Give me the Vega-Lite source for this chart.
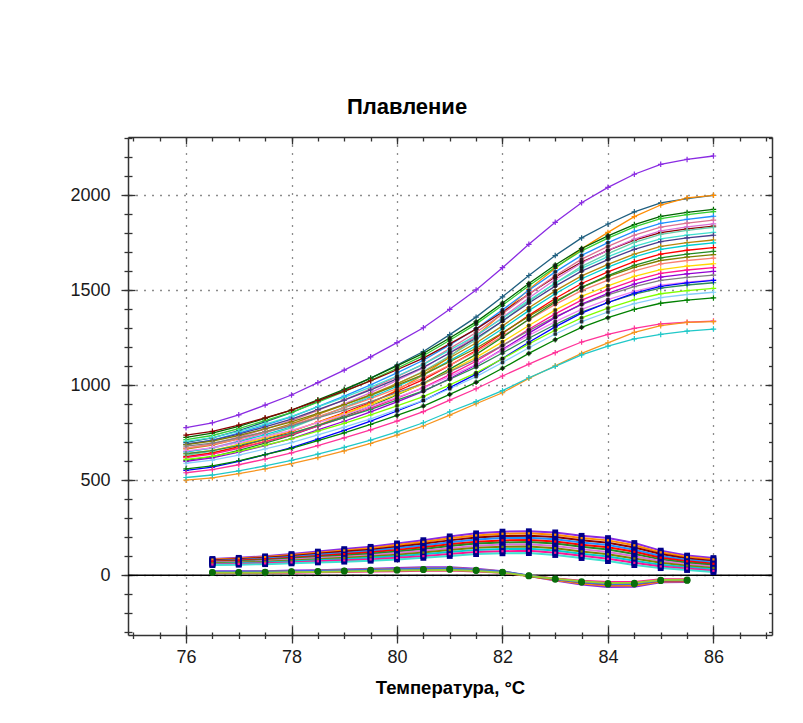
{
"$schema":"https://vega.github.io/schema/vega-lite/v6.json",
"width":644,"height":498,
"autosize":{"type":"none"},
"padding":{"left":128,"top":137,"right":31,"bottom":88},
"background":"white",
"title":{"text":"Плавление","font":"Liberation Sans","fontSize":22,"fontWeight":"bold","color":"#000","anchor":"middle","frame":"group","dx":-43,"offset":0,"baseline":"alphabetic"},
"datasets":{
"melt":[
{"s":1,"t":76,"v":777},{"s":1,"t":76.5,"v":803},{"s":1,"t":77,"v":845},{"s":1,"t":77.5,"v":896},{"s":1,"t":78,"v":949},{"s":1,"t":78.5,"v":1014},{"s":1,"t":79,"v":1080},{"s":1,"t":79.5,"v":1150},{"s":1,"t":80,"v":1225},{"s":1,"t":80.5,"v":1303},{"s":1,"t":81,"v":1400},{"s":1,"t":81.5,"v":1502},{"s":1,"t":82,"v":1619},{"s":1,"t":82.5,"v":1742},{"s":1,"t":83,"v":1858},{"s":1,"t":83.5,"v":1961},{"s":1,"t":84,"v":2042},{"s":1,"t":84.5,"v":2111},{"s":1,"t":85,"v":2163},{"s":1,"t":85.5,"v":2189},{"s":1,"t":86,"v":2207},
{"s":2,"t":76,"v":700},{"s":2,"t":76.5,"v":723},{"s":2,"t":77,"v":762},{"s":2,"t":77.5,"v":808},{"s":2,"t":78,"v":856},{"s":2,"t":78.5,"v":915},{"s":2,"t":79,"v":974},{"s":2,"t":79.5,"v":1038},{"s":2,"t":80,"v":1107},{"s":2,"t":80.5,"v":1178},{"s":2,"t":81,"v":1267},{"s":2,"t":81.5,"v":1359},{"s":2,"t":82,"v":1466},{"s":2,"t":82.5,"v":1578},{"s":2,"t":83,"v":1683},{"s":2,"t":83.5,"v":1776},{"s":2,"t":84,"v":1849},{"s":2,"t":84.5,"v":1913},{"s":2,"t":85,"v":1960},{"s":2,"t":85.5,"v":1983},{"s":2,"t":86,"v":2000},
{"s":3,"t":76,"v":622},{"s":3,"t":76.5,"v":645},{"s":3,"t":77,"v":672},{"s":3,"t":77.5,"v":705},{"s":3,"t":78,"v":745},{"s":3,"t":78.5,"v":790},{"s":3,"t":79,"v":845},{"s":3,"t":79.5,"v":905},{"s":3,"t":80,"v":975},{"s":3,"t":80.5,"v":1055},{"s":3,"t":81,"v":1150},{"s":3,"t":81.5,"v":1260},{"s":3,"t":82,"v":1379},{"s":3,"t":82.5,"v":1505},{"s":3,"t":83,"v":1616},{"s":3,"t":83.5,"v":1718},{"s":3,"t":84,"v":1805},{"s":3,"t":84.5,"v":1888},{"s":3,"t":85,"v":1949},{"s":3,"t":85.5,"v":1987},{"s":3,"t":86,"v":2000},
{"s":4,"t":76,"v":726},{"s":4,"t":76.5,"v":748},{"s":4,"t":77,"v":784},{"s":4,"t":77.5,"v":826},{"s":4,"t":78,"v":870},{"s":4,"t":78.5,"v":924},{"s":4,"t":79,"v":979},{"s":4,"t":79.5,"v":1038},{"s":4,"t":80,"v":1102},{"s":4,"t":80.5,"v":1168},{"s":4,"t":81,"v":1249},{"s":4,"t":81.5,"v":1334},{"s":4,"t":82,"v":1433},{"s":4,"t":82.5,"v":1536},{"s":4,"t":83,"v":1633},{"s":4,"t":83.5,"v":1720},{"s":4,"t":84,"v":1787},{"s":4,"t":84.5,"v":1846},{"s":4,"t":85,"v":1889},{"s":4,"t":85.5,"v":1910},{"s":4,"t":86,"v":1926},
{"s":5,"t":76,"v":714},{"s":5,"t":76.5,"v":736},{"s":5,"t":77,"v":772},{"s":5,"t":77.5,"v":814},{"s":5,"t":78,"v":858},{"s":5,"t":78.5,"v":912},{"s":5,"t":79,"v":967},{"s":5,"t":79.5,"v":1026},{"s":5,"t":80,"v":1090},{"s":5,"t":80.5,"v":1156},{"s":5,"t":81,"v":1237},{"s":5,"t":81.5,"v":1322},{"s":5,"t":82,"v":1421},{"s":5,"t":82.5,"v":1524},{"s":5,"t":83,"v":1621},{"s":5,"t":83.5,"v":1708},{"s":5,"t":84,"v":1775},{"s":5,"t":84.5,"v":1834},{"s":5,"t":85,"v":1877},{"s":5,"t":85.5,"v":1898},{"s":5,"t":86,"v":1914},
{"s":6,"t":76,"v":690},{"s":6,"t":76.5,"v":712},{"s":6,"t":77,"v":748},{"s":6,"t":77.5,"v":790},{"s":6,"t":78,"v":834},{"s":6,"t":78.5,"v":888},{"s":6,"t":79,"v":943},{"s":6,"t":79.5,"v":1002},{"s":6,"t":80,"v":1066},{"s":6,"t":80.5,"v":1132},{"s":6,"t":81,"v":1213},{"s":6,"t":81.5,"v":1298},{"s":6,"t":82,"v":1397},{"s":6,"t":82.5,"v":1500},{"s":6,"t":83,"v":1597},{"s":6,"t":83.5,"v":1684},{"s":6,"t":84,"v":1751},{"s":6,"t":84.5,"v":1810},{"s":6,"t":85,"v":1853},{"s":6,"t":85.5,"v":1874},{"s":6,"t":86,"v":1890},
{"s":7,"t":76,"v":738},{"s":7,"t":76.5,"v":758},{"s":7,"t":77,"v":791},{"s":7,"t":77.5,"v":829},{"s":7,"t":78,"v":870},{"s":7,"t":78.5,"v":920},{"s":7,"t":79,"v":970},{"s":7,"t":79.5,"v":1024},{"s":7,"t":80,"v":1082},{"s":7,"t":80.5,"v":1143},{"s":7,"t":81,"v":1218},{"s":7,"t":81.5,"v":1296},{"s":7,"t":82,"v":1386},{"s":7,"t":82.5,"v":1481},{"s":7,"t":83,"v":1570},{"s":7,"t":83.5,"v":1649},{"s":7,"t":84,"v":1710},{"s":7,"t":84.5,"v":1764},{"s":7,"t":85,"v":1804},{"s":7,"t":85.5,"v":1824},{"s":7,"t":86,"v":1838},
{"s":8,"t":76,"v":670},{"s":8,"t":76.5,"v":692},{"s":8,"t":77,"v":728},{"s":8,"t":77.5,"v":770},{"s":8,"t":78,"v":814},{"s":8,"t":78.5,"v":868},{"s":8,"t":79,"v":923},{"s":8,"t":79.5,"v":982},{"s":8,"t":80,"v":1046},{"s":8,"t":80.5,"v":1112},{"s":8,"t":81,"v":1193},{"s":8,"t":81.5,"v":1278},{"s":8,"t":82,"v":1377},{"s":8,"t":82.5,"v":1480},{"s":8,"t":83,"v":1577},{"s":8,"t":83.5,"v":1664},{"s":8,"t":84,"v":1731},{"s":8,"t":84.5,"v":1790},{"s":8,"t":85,"v":1833},{"s":8,"t":85.5,"v":1854},{"s":8,"t":86,"v":1870},
{"s":9,"t":76,"v":650},{"s":9,"t":76.5,"v":672},{"s":9,"t":77,"v":708},{"s":9,"t":77.5,"v":750},{"s":9,"t":78,"v":794},{"s":9,"t":78.5,"v":848},{"s":9,"t":79,"v":903},{"s":9,"t":79.5,"v":962},{"s":9,"t":80,"v":1026},{"s":9,"t":80.5,"v":1092},{"s":9,"t":81,"v":1173},{"s":9,"t":81.5,"v":1258},{"s":9,"t":82,"v":1357},{"s":9,"t":82.5,"v":1460},{"s":9,"t":83,"v":1557},{"s":9,"t":83.5,"v":1644},{"s":9,"t":84,"v":1711},{"s":9,"t":84.5,"v":1770},{"s":9,"t":85,"v":1813},{"s":9,"t":85.5,"v":1834},{"s":9,"t":86,"v":1850},
{"s":10,"t":76,"v":632},{"s":10,"t":76.5,"v":654},{"s":10,"t":77,"v":690},{"s":10,"t":77.5,"v":732},{"s":10,"t":78,"v":776},{"s":10,"t":78.5,"v":830},{"s":10,"t":79,"v":885},{"s":10,"t":79.5,"v":944},{"s":10,"t":80,"v":1008},{"s":10,"t":80.5,"v":1074},{"s":10,"t":81,"v":1155},{"s":10,"t":81.5,"v":1240},{"s":10,"t":82,"v":1339},{"s":10,"t":82.5,"v":1442},{"s":10,"t":83,"v":1539},{"s":10,"t":83.5,"v":1626},{"s":10,"t":84,"v":1693},{"s":10,"t":84.5,"v":1752},{"s":10,"t":85,"v":1795},{"s":10,"t":85.5,"v":1816},{"s":10,"t":86,"v":1832},
{"s":11,"t":76,"v":705},{"s":11,"t":76.5,"v":725},{"s":11,"t":77,"v":758},{"s":11,"t":77.5,"v":796},{"s":11,"t":78,"v":837},{"s":11,"t":78.5,"v":887},{"s":11,"t":79,"v":937},{"s":11,"t":79.5,"v":991},{"s":11,"t":80,"v":1049},{"s":11,"t":80.5,"v":1110},{"s":11,"t":81,"v":1185},{"s":11,"t":81.5,"v":1263},{"s":11,"t":82,"v":1353},{"s":11,"t":82.5,"v":1448},{"s":11,"t":83,"v":1537},{"s":11,"t":83.5,"v":1616},{"s":11,"t":84,"v":1677},{"s":11,"t":84.5,"v":1731},{"s":11,"t":85,"v":1771},{"s":11,"t":85.5,"v":1791},{"s":11,"t":86,"v":1805},
{"s":12,"t":76,"v":690},{"s":12,"t":76.5,"v":710},{"s":12,"t":77,"v":743},{"s":12,"t":77.5,"v":781},{"s":12,"t":78,"v":822},{"s":12,"t":78.5,"v":872},{"s":12,"t":79,"v":922},{"s":12,"t":79.5,"v":976},{"s":12,"t":80,"v":1034},{"s":12,"t":80.5,"v":1095},{"s":12,"t":81,"v":1170},{"s":12,"t":81.5,"v":1248},{"s":12,"t":82,"v":1338},{"s":12,"t":82.5,"v":1433},{"s":12,"t":83,"v":1522},{"s":12,"t":83.5,"v":1601},{"s":12,"t":84,"v":1662},{"s":12,"t":84.5,"v":1716},{"s":12,"t":85,"v":1756},{"s":12,"t":85.5,"v":1776},{"s":12,"t":86,"v":1790},
{"s":13,"t":76,"v":665},{"s":13,"t":76.5,"v":685},{"s":13,"t":77,"v":718},{"s":13,"t":77.5,"v":756},{"s":13,"t":78,"v":797},{"s":13,"t":78.5,"v":847},{"s":13,"t":79,"v":897},{"s":13,"t":79.5,"v":951},{"s":13,"t":80,"v":1009},{"s":13,"t":80.5,"v":1070},{"s":13,"t":81,"v":1145},{"s":13,"t":81.5,"v":1223},{"s":13,"t":82,"v":1313},{"s":13,"t":82.5,"v":1408},{"s":13,"t":83,"v":1497},{"s":13,"t":83.5,"v":1576},{"s":13,"t":84,"v":1637},{"s":13,"t":84.5,"v":1691},{"s":13,"t":85,"v":1731},{"s":13,"t":85.5,"v":1751},{"s":13,"t":86,"v":1765},
{"s":14,"t":76,"v":650},{"s":14,"t":76.5,"v":670},{"s":14,"t":77,"v":703},{"s":14,"t":77.5,"v":741},{"s":14,"t":78,"v":782},{"s":14,"t":78.5,"v":832},{"s":14,"t":79,"v":882},{"s":14,"t":79.5,"v":936},{"s":14,"t":80,"v":994},{"s":14,"t":80.5,"v":1055},{"s":14,"t":81,"v":1130},{"s":14,"t":81.5,"v":1208},{"s":14,"t":82,"v":1298},{"s":14,"t":82.5,"v":1393},{"s":14,"t":83,"v":1482},{"s":14,"t":83.5,"v":1561},{"s":14,"t":84,"v":1622},{"s":14,"t":84.5,"v":1676},{"s":14,"t":85,"v":1716},{"s":14,"t":85.5,"v":1736},{"s":14,"t":86,"v":1750},
{"s":15,"t":76,"v":625},{"s":15,"t":76.5,"v":645},{"s":15,"t":77,"v":678},{"s":15,"t":77.5,"v":716},{"s":15,"t":78,"v":757},{"s":15,"t":78.5,"v":807},{"s":15,"t":79,"v":857},{"s":15,"t":79.5,"v":911},{"s":15,"t":80,"v":969},{"s":15,"t":80.5,"v":1030},{"s":15,"t":81,"v":1105},{"s":15,"t":81.5,"v":1183},{"s":15,"t":82,"v":1273},{"s":15,"t":82.5,"v":1368},{"s":15,"t":83,"v":1457},{"s":15,"t":83.5,"v":1536},{"s":15,"t":84,"v":1597},{"s":15,"t":84.5,"v":1651},{"s":15,"t":85,"v":1691},{"s":15,"t":85.5,"v":1711},{"s":15,"t":86,"v":1725},
{"s":16,"t":76,"v":688},{"s":16,"t":76.5,"v":706},{"s":16,"t":77,"v":736},{"s":16,"t":77.5,"v":771},{"s":16,"t":78,"v":808},{"s":16,"t":78.5,"v":853},{"s":16,"t":79,"v":899},{"s":16,"t":79.5,"v":948},{"s":16,"t":80,"v":1001},{"s":16,"t":80.5,"v":1056},{"s":16,"t":81,"v":1124},{"s":16,"t":81.5,"v":1195},{"s":16,"t":82,"v":1277},{"s":16,"t":82.5,"v":1363},{"s":16,"t":83,"v":1444},{"s":16,"t":83.5,"v":1516},{"s":16,"t":84,"v":1572},{"s":16,"t":84.5,"v":1621},{"s":16,"t":85,"v":1657},{"s":16,"t":85.5,"v":1675},{"s":16,"t":86,"v":1688},
{"s":17,"t":76,"v":670},{"s":17,"t":76.5,"v":688},{"s":17,"t":77,"v":718},{"s":17,"t":77.5,"v":753},{"s":17,"t":78,"v":790},{"s":17,"t":78.5,"v":835},{"s":17,"t":79,"v":881},{"s":17,"t":79.5,"v":930},{"s":17,"t":80,"v":983},{"s":17,"t":80.5,"v":1038},{"s":17,"t":81,"v":1106},{"s":17,"t":81.5,"v":1177},{"s":17,"t":82,"v":1259},{"s":17,"t":82.5,"v":1345},{"s":17,"t":83,"v":1426},{"s":17,"t":83.5,"v":1498},{"s":17,"t":84,"v":1554},{"s":17,"t":84.5,"v":1603},{"s":17,"t":85,"v":1639},{"s":17,"t":85.5,"v":1657},{"s":17,"t":86,"v":1670},
{"s":18,"t":76,"v":605},{"s":18,"t":76.5,"v":625},{"s":18,"t":77,"v":658},{"s":18,"t":77.5,"v":696},{"s":18,"t":78,"v":737},{"s":18,"t":78.5,"v":787},{"s":18,"t":79,"v":837},{"s":18,"t":79.5,"v":891},{"s":18,"t":80,"v":949},{"s":18,"t":80.5,"v":1010},{"s":18,"t":81,"v":1085},{"s":18,"t":81.5,"v":1163},{"s":18,"t":82,"v":1253},{"s":18,"t":82.5,"v":1348},{"s":18,"t":83,"v":1437},{"s":18,"t":83.5,"v":1516},{"s":18,"t":84,"v":1577},{"s":18,"t":84.5,"v":1631},{"s":18,"t":85,"v":1671},{"s":18,"t":85.5,"v":1691},{"s":18,"t":86,"v":1705},
{"s":19,"t":76,"v":640},{"s":19,"t":76.5,"v":658},{"s":19,"t":77,"v":688},{"s":19,"t":77.5,"v":723},{"s":19,"t":78,"v":760},{"s":19,"t":78.5,"v":805},{"s":19,"t":79,"v":851},{"s":19,"t":79.5,"v":900},{"s":19,"t":80,"v":953},{"s":19,"t":80.5,"v":1008},{"s":19,"t":81,"v":1076},{"s":19,"t":81.5,"v":1147},{"s":19,"t":82,"v":1229},{"s":19,"t":82.5,"v":1315},{"s":19,"t":83,"v":1396},{"s":19,"t":83.5,"v":1468},{"s":19,"t":84,"v":1524},{"s":19,"t":84.5,"v":1573},{"s":19,"t":85,"v":1609},{"s":19,"t":85.5,"v":1627},{"s":19,"t":86,"v":1640},
{"s":20,"t":76,"v":620},{"s":20,"t":76.5,"v":638},{"s":20,"t":77,"v":668},{"s":20,"t":77.5,"v":703},{"s":20,"t":78,"v":740},{"s":20,"t":78.5,"v":785},{"s":20,"t":79,"v":831},{"s":20,"t":79.5,"v":880},{"s":20,"t":80,"v":933},{"s":20,"t":80.5,"v":988},{"s":20,"t":81,"v":1056},{"s":20,"t":81.5,"v":1127},{"s":20,"t":82,"v":1209},{"s":20,"t":82.5,"v":1295},{"s":20,"t":83,"v":1376},{"s":20,"t":83.5,"v":1448},{"s":20,"t":84,"v":1504},{"s":20,"t":84.5,"v":1553},{"s":20,"t":85,"v":1589},{"s":20,"t":85.5,"v":1607},{"s":20,"t":86,"v":1620},
{"s":21,"t":76,"v":680},{"s":21,"t":76.5,"v":696},{"s":21,"t":77,"v":723},{"s":21,"t":77.5,"v":755},{"s":21,"t":78,"v":788},{"s":21,"t":78.5,"v":829},{"s":21,"t":79,"v":870},{"s":21,"t":79.5,"v":914},{"s":21,"t":80,"v":962},{"s":21,"t":80.5,"v":1011},{"s":21,"t":81,"v":1072},{"s":21,"t":81.5,"v":1136},{"s":21,"t":82,"v":1210},{"s":21,"t":82.5,"v":1288},{"s":21,"t":83,"v":1360},{"s":21,"t":83.5,"v":1425},{"s":21,"t":84,"v":1476},{"s":21,"t":84.5,"v":1520},{"s":21,"t":85,"v":1552},{"s":21,"t":85.5,"v":1568},{"s":21,"t":86,"v":1580},
{"s":22,"t":76,"v":600},{"s":22,"t":76.5,"v":618},{"s":22,"t":77,"v":648},{"s":22,"t":77.5,"v":683},{"s":22,"t":78,"v":720},{"s":22,"t":78.5,"v":765},{"s":22,"t":79,"v":811},{"s":22,"t":79.5,"v":860},{"s":22,"t":80,"v":913},{"s":22,"t":80.5,"v":968},{"s":22,"t":81,"v":1036},{"s":22,"t":81.5,"v":1107},{"s":22,"t":82,"v":1189},{"s":22,"t":82.5,"v":1275},{"s":22,"t":83,"v":1356},{"s":22,"t":83.5,"v":1428},{"s":22,"t":84,"v":1484},{"s":22,"t":84.5,"v":1533},{"s":22,"t":85,"v":1569},{"s":22,"t":85.5,"v":1587},{"s":22,"t":86,"v":1600},
{"s":23,"t":76,"v":655},{"s":23,"t":76.5,"v":671},{"s":23,"t":77,"v":698},{"s":23,"t":77.5,"v":730},{"s":23,"t":78,"v":763},{"s":23,"t":78.5,"v":804},{"s":23,"t":79,"v":845},{"s":23,"t":79.5,"v":889},{"s":23,"t":80,"v":937},{"s":23,"t":80.5,"v":986},{"s":23,"t":81,"v":1047},{"s":23,"t":81.5,"v":1111},{"s":23,"t":82,"v":1185},{"s":23,"t":82.5,"v":1263},{"s":23,"t":83,"v":1335},{"s":23,"t":83.5,"v":1400},{"s":23,"t":84,"v":1451},{"s":23,"t":84.5,"v":1495},{"s":23,"t":85,"v":1527},{"s":23,"t":85.5,"v":1543},{"s":23,"t":86,"v":1555},
{"s":24,"t":76,"v":640},{"s":24,"t":76.5,"v":656},{"s":24,"t":77,"v":683},{"s":24,"t":77.5,"v":715},{"s":24,"t":78,"v":748},{"s":24,"t":78.5,"v":789},{"s":24,"t":79,"v":830},{"s":24,"t":79.5,"v":874},{"s":24,"t":80,"v":922},{"s":24,"t":80.5,"v":971},{"s":24,"t":81,"v":1032},{"s":24,"t":81.5,"v":1096},{"s":24,"t":82,"v":1170},{"s":24,"t":82.5,"v":1248},{"s":24,"t":83,"v":1320},{"s":24,"t":83.5,"v":1385},{"s":24,"t":84,"v":1436},{"s":24,"t":84.5,"v":1480},{"s":24,"t":85,"v":1512},{"s":24,"t":85.5,"v":1528},{"s":24,"t":86,"v":1540},
{"s":25,"t":76,"v":552},{"s":25,"t":76.5,"v":570},{"s":25,"t":77,"v":600},{"s":25,"t":77.5,"v":635},{"s":25,"t":78,"v":672},{"s":25,"t":78.5,"v":717},{"s":25,"t":79,"v":763},{"s":25,"t":79.5,"v":812},{"s":25,"t":80,"v":865},{"s":25,"t":80.5,"v":920},{"s":25,"t":81,"v":988},{"s":25,"t":81.5,"v":1059},{"s":25,"t":82,"v":1141},{"s":25,"t":82.5,"v":1227},{"s":25,"t":83,"v":1308},{"s":25,"t":83.5,"v":1380},{"s":25,"t":84,"v":1436},{"s":25,"t":84.5,"v":1485},{"s":25,"t":85,"v":1521},{"s":25,"t":85.5,"v":1539},{"s":25,"t":86,"v":1552},
{"s":26,"t":76,"v":610},{"s":26,"t":76.5,"v":626},{"s":26,"t":77,"v":653},{"s":26,"t":77.5,"v":685},{"s":26,"t":78,"v":718},{"s":26,"t":78.5,"v":759},{"s":26,"t":79,"v":800},{"s":26,"t":79.5,"v":844},{"s":26,"t":80,"v":892},{"s":26,"t":80.5,"v":941},{"s":26,"t":81,"v":1002},{"s":26,"t":81.5,"v":1066},{"s":26,"t":82,"v":1140},{"s":26,"t":82.5,"v":1218},{"s":26,"t":83,"v":1290},{"s":26,"t":83.5,"v":1355},{"s":26,"t":84,"v":1406},{"s":26,"t":84.5,"v":1450},{"s":26,"t":85,"v":1482},{"s":26,"t":85.5,"v":1498},{"s":26,"t":86,"v":1510},
{"s":27,"t":76,"v":560},{"s":27,"t":76.5,"v":576},{"s":27,"t":77,"v":603},{"s":27,"t":77.5,"v":635},{"s":27,"t":78,"v":668},{"s":27,"t":78.5,"v":709},{"s":27,"t":79,"v":750},{"s":27,"t":79.5,"v":794},{"s":27,"t":80,"v":842},{"s":27,"t":80.5,"v":891},{"s":27,"t":81,"v":952},{"s":27,"t":81.5,"v":1016},{"s":27,"t":82,"v":1090},{"s":27,"t":82.5,"v":1168},{"s":27,"t":83,"v":1240},{"s":27,"t":83.5,"v":1305},{"s":27,"t":84,"v":1356},{"s":27,"t":84.5,"v":1400},{"s":27,"t":85,"v":1432},{"s":27,"t":85.5,"v":1448},{"s":27,"t":86,"v":1460},
{"s":28,"t":76,"v":590},{"s":28,"t":76.5,"v":606},{"s":28,"t":77,"v":633},{"s":28,"t":77.5,"v":665},{"s":28,"t":78,"v":698},{"s":28,"t":78.5,"v":739},{"s":28,"t":79,"v":780},{"s":28,"t":79.5,"v":824},{"s":28,"t":80,"v":872},{"s":28,"t":80.5,"v":921},{"s":28,"t":81,"v":982},{"s":28,"t":81.5,"v":1046},{"s":28,"t":82,"v":1120},{"s":28,"t":82.5,"v":1198},{"s":28,"t":83,"v":1270},{"s":28,"t":83.5,"v":1335},{"s":28,"t":84,"v":1386},{"s":28,"t":84.5,"v":1430},{"s":28,"t":85,"v":1462},{"s":28,"t":85.5,"v":1478},{"s":28,"t":86,"v":1490},
{"s":29,"t":76,"v":540},{"s":29,"t":76.5,"v":556},{"s":29,"t":77,"v":582},{"s":29,"t":77.5,"v":612},{"s":29,"t":78,"v":645},{"s":29,"t":78.5,"v":683},{"s":29,"t":79,"v":723},{"s":29,"t":79.5,"v":766},{"s":29,"t":80,"v":812},{"s":29,"t":80.5,"v":862},{"s":29,"t":81,"v":922},{"s":29,"t":81.5,"v":982},{"s":29,"t":82,"v":1049},{"s":29,"t":82.5,"v":1112},{"s":29,"t":83,"v":1172},{"s":29,"t":83.5,"v":1228},{"s":29,"t":84,"v":1268},{"s":29,"t":84.5,"v":1300},{"s":29,"t":85,"v":1323},{"s":29,"t":85.5,"v":1332},{"s":29,"t":86,"v":1338},
{"s":30,"t":76,"v":501},{"s":30,"t":76.5,"v":513},{"s":30,"t":77,"v":535},{"s":30,"t":77.5,"v":560},{"s":30,"t":78,"v":588},{"s":30,"t":78.5,"v":620},{"s":30,"t":79,"v":655},{"s":30,"t":79.5,"v":694},{"s":30,"t":80,"v":738},{"s":30,"t":80.5,"v":786},{"s":30,"t":81,"v":843},{"s":30,"t":81.5,"v":903},{"s":30,"t":82,"v":961},{"s":30,"t":82.5,"v":1037},{"s":30,"t":83,"v":1103},{"s":30,"t":83.5,"v":1168},{"s":30,"t":84,"v":1224},{"s":30,"t":84.5,"v":1279},{"s":30,"t":85,"v":1314},{"s":30,"t":85.5,"v":1331},{"s":30,"t":86,"v":1335},
{"s":31,"t":76,"v":515},{"s":31,"t":76.5,"v":528},{"s":31,"t":77,"v":550},{"s":31,"t":77.5,"v":576},{"s":31,"t":78,"v":605},{"s":31,"t":78.5,"v":638},{"s":31,"t":79,"v":673},{"s":31,"t":79.5,"v":712},{"s":31,"t":80,"v":755},{"s":31,"t":80.5,"v":803},{"s":31,"t":81,"v":861},{"s":31,"t":81.5,"v":914},{"s":31,"t":82,"v":972},{"s":31,"t":82.5,"v":1040},{"s":31,"t":83,"v":1100},{"s":31,"t":83.5,"v":1160},{"s":31,"t":84,"v":1206},{"s":31,"t":84.5,"v":1245},{"s":31,"t":85,"v":1268},{"s":31,"t":85.5,"v":1285},{"s":31,"t":86,"v":1296}
],
"up":[
{"s":101,"t":76.5,"v":86},{"s":101,"t":77,"v":92},{"s":101,"t":77.5,"v":100},{"s":101,"t":78,"v":112},{"s":101,"t":78.5,"v":125},{"s":101,"t":79,"v":138},{"s":101,"t":79.5,"v":150},{"s":101,"t":80,"v":168},{"s":101,"t":80.5,"v":185},{"s":101,"t":81,"v":205},{"s":101,"t":81.5,"v":221},{"s":101,"t":82,"v":230},{"s":101,"t":82.5,"v":232},{"s":101,"t":83,"v":226},{"s":101,"t":83.5,"v":208},{"s":101,"t":84,"v":196},{"s":101,"t":84.5,"v":170},{"s":101,"t":85,"v":130},{"s":101,"t":85.5,"v":104},{"s":101,"t":86,"v":91},
{"s":102,"t":76.5,"v":83},{"s":102,"t":77,"v":88},{"s":102,"t":77.5,"v":96},{"s":102,"t":78,"v":107},{"s":102,"t":78.5,"v":119},{"s":102,"t":79,"v":131},{"s":102,"t":79.5,"v":143},{"s":102,"t":80,"v":160},{"s":102,"t":80.5,"v":176},{"s":102,"t":81,"v":195},{"s":102,"t":81.5,"v":210},{"s":102,"t":82,"v":219},{"s":102,"t":82.5,"v":221},{"s":102,"t":83,"v":214},{"s":102,"t":83.5,"v":196},{"s":102,"t":84,"v":184},{"s":102,"t":84.5,"v":158},{"s":102,"t":85,"v":121},{"s":102,"t":85.5,"v":96},{"s":102,"t":86,"v":84},
{"s":103,"t":76.5,"v":80},{"s":103,"t":77,"v":85},{"s":103,"t":77.5,"v":92},{"s":103,"t":78,"v":102},{"s":103,"t":78.5,"v":114},{"s":103,"t":79,"v":125},{"s":103,"t":79.5,"v":135},{"s":103,"t":80,"v":151},{"s":103,"t":80.5,"v":166},{"s":103,"t":81,"v":184},{"s":103,"t":81.5,"v":199},{"s":103,"t":82,"v":207},{"s":103,"t":82.5,"v":209},{"s":103,"t":83,"v":202},{"s":103,"t":83.5,"v":185},{"s":103,"t":84,"v":172},{"s":103,"t":84.5,"v":147},{"s":103,"t":85,"v":112},{"s":103,"t":85.5,"v":89},{"s":103,"t":86,"v":76},
{"s":104,"t":76.5,"v":76},{"s":104,"t":77,"v":81},{"s":104,"t":77.5,"v":88},{"s":104,"t":78,"v":97},{"s":104,"t":78.5,"v":108},{"s":104,"t":79,"v":118},{"s":104,"t":79.5,"v":128},{"s":104,"t":80,"v":143},{"s":104,"t":80.5,"v":157},{"s":104,"t":81,"v":174},{"s":104,"t":81.5,"v":188},{"s":104,"t":82,"v":196},{"s":104,"t":82.5,"v":198},{"s":104,"t":83,"v":190},{"s":104,"t":83.5,"v":173},{"s":104,"t":84,"v":160},{"s":104,"t":84.5,"v":135},{"s":104,"t":85,"v":102},{"s":104,"t":85.5,"v":81},{"s":104,"t":86,"v":69},
{"s":105,"t":76.5,"v":73},{"s":105,"t":77,"v":78},{"s":105,"t":77.5,"v":84},{"s":105,"t":78,"v":92},{"s":105,"t":78.5,"v":102},{"s":105,"t":79,"v":112},{"s":105,"t":79.5,"v":121},{"s":105,"t":80,"v":134},{"s":105,"t":80.5,"v":148},{"s":105,"t":81,"v":164},{"s":105,"t":81.5,"v":177},{"s":105,"t":82,"v":184},{"s":105,"t":82.5,"v":186},{"s":105,"t":83,"v":178},{"s":105,"t":83.5,"v":161},{"s":105,"t":84,"v":148},{"s":105,"t":84.5,"v":124},{"s":105,"t":85,"v":93},{"s":105,"t":85.5,"v":74},{"s":105,"t":86,"v":61},
{"s":106,"t":76.5,"v":70},{"s":106,"t":77,"v":74},{"s":106,"t":77.5,"v":80},{"s":106,"t":78,"v":88},{"s":106,"t":78.5,"v":97},{"s":106,"t":79,"v":105},{"s":106,"t":79.5,"v":114},{"s":106,"t":80,"v":126},{"s":106,"t":80.5,"v":139},{"s":106,"t":81,"v":154},{"s":106,"t":81.5,"v":167},{"s":106,"t":82,"v":173},{"s":106,"t":82.5,"v":175},{"s":106,"t":83,"v":167},{"s":106,"t":83.5,"v":150},{"s":106,"t":84,"v":136},{"s":106,"t":84.5,"v":112},{"s":106,"t":85,"v":84},{"s":106,"t":85.5,"v":66},{"s":106,"t":86,"v":54},
{"s":107,"t":76.5,"v":67},{"s":107,"t":77,"v":70},{"s":107,"t":77.5,"v":75},{"s":107,"t":78,"v":83},{"s":107,"t":78.5,"v":91},{"s":107,"t":79,"v":98},{"s":107,"t":79.5,"v":106},{"s":107,"t":80,"v":118},{"s":107,"t":80.5,"v":129},{"s":107,"t":81,"v":143},{"s":107,"t":81.5,"v":156},{"s":107,"t":82,"v":162},{"s":107,"t":82.5,"v":163},{"s":107,"t":83,"v":155},{"s":107,"t":83.5,"v":138},{"s":107,"t":84,"v":123},{"s":107,"t":84.5,"v":100},{"s":107,"t":85,"v":75},{"s":107,"t":85.5,"v":58},{"s":107,"t":86,"v":47},
{"s":108,"t":76.5,"v":64},{"s":108,"t":77,"v":67},{"s":108,"t":77.5,"v":71},{"s":108,"t":78,"v":78},{"s":108,"t":78.5,"v":85},{"s":108,"t":79,"v":92},{"s":108,"t":79.5,"v":99},{"s":108,"t":80,"v":109},{"s":108,"t":80.5,"v":120},{"s":108,"t":81,"v":133},{"s":108,"t":81.5,"v":145},{"s":108,"t":82,"v":150},{"s":108,"t":82.5,"v":152},{"s":108,"t":83,"v":143},{"s":108,"t":83.5,"v":126},{"s":108,"t":84,"v":111},{"s":108,"t":84.5,"v":89},{"s":108,"t":85,"v":66},{"s":108,"t":85.5,"v":51},{"s":108,"t":86,"v":39},
{"s":109,"t":76.5,"v":60},{"s":109,"t":77,"v":63},{"s":109,"t":77.5,"v":67},{"s":109,"t":78,"v":73},{"s":109,"t":78.5,"v":79},{"s":109,"t":79,"v":85},{"s":109,"t":79.5,"v":92},{"s":109,"t":80,"v":101},{"s":109,"t":80.5,"v":111},{"s":109,"t":81,"v":123},{"s":109,"t":81.5,"v":134},{"s":109,"t":82,"v":139},{"s":109,"t":82.5,"v":140},{"s":109,"t":83,"v":131},{"s":109,"t":83.5,"v":114},{"s":109,"t":84,"v":99},{"s":109,"t":84.5,"v":77},{"s":109,"t":85,"v":56},{"s":109,"t":85.5,"v":43},{"s":109,"t":86,"v":32},
{"s":110,"t":76.5,"v":57},{"s":110,"t":77,"v":60},{"s":110,"t":77.5,"v":63},{"s":110,"t":78,"v":68},{"s":110,"t":78.5,"v":74},{"s":110,"t":79,"v":79},{"s":110,"t":79.5,"v":84},{"s":110,"t":80,"v":92},{"s":110,"t":80.5,"v":101},{"s":110,"t":81,"v":112},{"s":110,"t":81.5,"v":123},{"s":110,"t":82,"v":127},{"s":110,"t":82.5,"v":129},{"s":110,"t":83,"v":119},{"s":110,"t":83.5,"v":103},{"s":110,"t":84,"v":87},{"s":110,"t":84.5,"v":66},{"s":110,"t":85,"v":47},{"s":110,"t":85.5,"v":36},{"s":110,"t":86,"v":24},
{"s":111,"t":76.5,"v":54},{"s":111,"t":77,"v":56},{"s":111,"t":77.5,"v":59},{"s":111,"t":78,"v":63},{"s":111,"t":78.5,"v":68},{"s":111,"t":79,"v":72},{"s":111,"t":79.5,"v":77},{"s":111,"t":80,"v":84},{"s":111,"t":80.5,"v":92},{"s":111,"t":81,"v":102},{"s":111,"t":81.5,"v":112},{"s":111,"t":82,"v":116},{"s":111,"t":82.5,"v":117},{"s":111,"t":83,"v":107},{"s":111,"t":83.5,"v":91},{"s":111,"t":84,"v":75},{"s":111,"t":84.5,"v":54},{"s":111,"t":85,"v":38},{"s":111,"t":85.5,"v":28},{"s":111,"t":86,"v":17}
],
"low":[
{"s":201,"t":76.5,"v":21},{"s":201,"t":77,"v":21},{"s":201,"t":77.5,"v":22},{"s":201,"t":78,"v":25},{"s":201,"t":78.5,"v":27},{"s":201,"t":79,"v":31},{"s":201,"t":79.5,"v":35},{"s":201,"t":80,"v":38},{"s":201,"t":80.5,"v":42},{"s":201,"t":81,"v":43},{"s":201,"t":81.5,"v":35},{"s":201,"t":82,"v":22},{"s":201,"t":82.5,"v":-4},{"s":201,"t":83,"v":-27},{"s":201,"t":83.5,"v":-48},{"s":201,"t":84,"v":-61},{"s":201,"t":84.5,"v":-60},{"s":201,"t":85,"v":-36},{"s":201,"t":85.5,"v":-35},
{"s":202,"t":76.5,"v":18},{"s":202,"t":77,"v":18},{"s":202,"t":77.5,"v":20},{"s":202,"t":78,"v":22},{"s":202,"t":78.5,"v":24},{"s":202,"t":79,"v":28},{"s":202,"t":79.5,"v":31},{"s":202,"t":80,"v":33},{"s":202,"t":80.5,"v":37},{"s":202,"t":81,"v":38},{"s":202,"t":81.5,"v":31},{"s":202,"t":82,"v":20},{"s":202,"t":82.5,"v":-3},{"s":202,"t":83,"v":-24},{"s":202,"t":83.5,"v":-43},{"s":202,"t":84,"v":-54},{"s":202,"t":84.5,"v":-53},{"s":202,"t":85,"v":-32},{"s":202,"t":85.5,"v":-31},
{"s":203,"t":76.5,"v":16},{"s":203,"t":77,"v":16},{"s":203,"t":77.5,"v":17},{"s":203,"t":78,"v":19},{"s":203,"t":78.5,"v":21},{"s":203,"t":79,"v":24},{"s":203,"t":79.5,"v":27},{"s":203,"t":80,"v":29},{"s":203,"t":80.5,"v":32},{"s":203,"t":81,"v":33},{"s":203,"t":81.5,"v":27},{"s":203,"t":82,"v":17},{"s":203,"t":82.5,"v":-3},{"s":203,"t":83,"v":-21},{"s":203,"t":83.5,"v":-37},{"s":203,"t":84,"v":-47},{"s":203,"t":84.5,"v":-46},{"s":203,"t":85,"v":-28},{"s":203,"t":85.5,"v":-27},
{"s":204,"t":76.5,"v":15},{"s":204,"t":77,"v":15},{"s":204,"t":77.5,"v":16},{"s":204,"t":78,"v":18},{"s":204,"t":78.5,"v":20},{"s":204,"t":79,"v":22},{"s":204,"t":79.5,"v":25},{"s":204,"t":80,"v":27},{"s":204,"t":80.5,"v":30},{"s":204,"t":81,"v":31},{"s":204,"t":81.5,"v":25},{"s":204,"t":82,"v":16},{"s":204,"t":82.5,"v":-2},{"s":204,"t":83,"v":-18},{"s":204,"t":83.5,"v":-33},{"s":204,"t":84,"v":-42},{"s":204,"t":84.5,"v":-41},{"s":204,"t":85,"v":-25},{"s":204,"t":85.5,"v":-24},
{"s":205,"t":76.5,"v":12},{"s":205,"t":77,"v":12},{"s":205,"t":77.5,"v":13},{"s":205,"t":78,"v":14},{"s":205,"t":78.5,"v":16},{"s":205,"t":79,"v":18},{"s":205,"t":79.5,"v":20},{"s":205,"t":80,"v":22},{"s":205,"t":80.5,"v":24},{"s":205,"t":81,"v":25},{"s":205,"t":81.5,"v":20},{"s":205,"t":82,"v":13},{"s":205,"t":82.5,"v":-2},{"s":205,"t":83,"v":-16},{"s":205,"t":83.5,"v":-28},{"s":205,"t":84,"v":-35},{"s":205,"t":84.5,"v":-35},{"s":205,"t":85,"v":-21},{"s":205,"t":85.5,"v":-20},
{"s":206,"t":76.5,"v":19},{"s":206,"t":77,"v":19},{"s":206,"t":77.5,"v":20},{"s":206,"t":78,"v":22},{"s":206,"t":78.5,"v":24},{"s":206,"t":79,"v":27},{"s":206,"t":79.5,"v":30},{"s":206,"t":80,"v":32},{"s":206,"t":80.5,"v":36},{"s":206,"t":81,"v":37},{"s":206,"t":81.5,"v":30},{"s":206,"t":82,"v":20},{"s":206,"t":82.5,"v":-1},{"s":206,"t":83,"v":-20},{"s":206,"t":83.5,"v":-37},{"s":206,"t":84,"v":-47},{"s":206,"t":84.5,"v":-46},{"s":206,"t":85,"v":-27},{"s":206,"t":85.5,"v":-26},
{"s":207,"t":76.5,"v":14},{"s":207,"t":77,"v":14},{"s":207,"t":77.5,"v":14},{"s":207,"t":78,"v":16},{"s":207,"t":78.5,"v":18},{"s":207,"t":79,"v":20},{"s":207,"t":79.5,"v":23},{"s":207,"t":80,"v":25},{"s":207,"t":80.5,"v":27},{"s":207,"t":81,"v":28},{"s":207,"t":81.5,"v":23},{"s":207,"t":82,"v":14},{"s":207,"t":82.5,"v":-3},{"s":207,"t":83,"v":-18},{"s":207,"t":83.5,"v":-31},{"s":207,"t":84,"v":-40},{"s":207,"t":84.5,"v":-39},{"s":207,"t":85,"v":-24},{"s":207,"t":85.5,"v":-23}
]
},
"layer":[
{"data":{"values":[{}]},"mark":{"type":"rule","color":"#000","strokeWidth":1.5},
 "encoding":{"y":{"datum":0,"type":"quantitative","scale":{"domain":[-314,2307],"nice":false,"zero":false},"axis":null}}},
{"data":{"name":"melt"},"mark":{"type":"line","strokeWidth":1.3},
 "encoding":{
  "x":{"field":"t","type":"quantitative","scale":{"domain":[74.9,87.11],"nice":false,"zero":false},
       "axis":{"orient":"bottom","values":[76,78,80,82,84,86],"format":"d","tickSize":8,"labelPadding":5,"grid":true,"title":"Температура, °C","titleFont":"Liberation Sans","titleFontSize":18.5,"titleFontWeight":"bold","titleColor":"#000","titlePadding":12}},
  "y":{"field":"v","type":"quantitative","scale":{"domain":[-314,2307],"nice":false,"zero":false},
       "axis":{"orient":"left","values":[0,500,1000,1500,2000],"format":"d","tickSize":7,"labelPadding":11,"grid":true,"title":null}},
  "color":{"field":"s","type":"nominal","legend":null,"scale":{
    "domain":[1,2,3,4,5,6,7,8,9,10,11,12,13,14,15,16,17,18,19,20,21,22,23,24,25,26,27,28,29,30,31,101,102,103,104,105,106,107,108,109,110,111,201,202,203,204,205,206,207],
    "range":["#8A2BE2","#1F5F7F","#FF8C00","#006400","#32CD32","#1E90FF","#8B0000","#DB7093","#DA70D6","#66CDAA","#40E0D0","#483D8B","#B8860B","#00CED1","#FF0000","#808000","#FA8072","#228B22","#FFD700","#FF1493","#808080","#9400D3","#EE82EE","#2E8B57","#0000FF","#7FFF00","#008000","#87CEFA","#FF3399","#F7941D","#20C8C8","#8A2BE2","#FF8C00","#8B0000","#1E90FF","#FF0000","#228B22","#DA70D6","#808000","#00CED1","#FF1493","#40E0D0","#8A2BE2","#FF8C00","#FF0000","#006400","#FF1493","#4169E1","#9ACD32"]}}}},
{"data":{"name":"melt"},"mark":{"type":"point","shape":"M-1,0L1,0M0,-1L0,1","filled":false,"size":30,"strokeWidth":1.2,"opacity":1},
 "encoding":{
  "x":{"field":"t","type":"quantitative","scale":{"domain":[74.9,87.11],"nice":false,"zero":false},
       "axis":{"orient":"top","values":[76,78,80,82,84,86],"tickSize":-7,"labels":false,"grid":false,"title":null}},
  "y":{"field":"v","type":"quantitative","scale":{"domain":[-314,2307],"nice":false,"zero":false},
       "axis":{"orient":"right","values":[0,500,1000,1500,2000],"tickSize":-7,"labels":false,"grid":false,"title":null}},
  "color":{"field":"s","type":"nominal","legend":null}}},
{"data":{"name":"melt"},"transform":[{"filter":"datum.t >= 80 && datum.t <= 84 && datum.s >= 4 && datum.s <= 28"}],
 "mark":{"type":"square","size":12,"color":"#111","opacity":0.85},
 "encoding":{
  "x":{"field":"t","type":"quantitative","scale":{"domain":[74.9,87.11],"nice":false,"zero":false},
       "axis":{"orient":"bottom","values":[75,75.5,76,76.5,77,77.5,78,78.5,79,79.5,80,80.5,81,81.5,82,82.5,83,83.5,84,84.5,85,85.5,86,86.5,87],"tickSize":3.5,"labels":false,"domain":false,"grid":false,"title":null}},
  "y":{"field":"v","type":"quantitative","scale":{"domain":[-314,2307],"nice":false,"zero":false},
       "axis":{"orient":"left","values":[-300,-200,-100,0,100,200,300,400,500,600,700,800,900,1000,1100,1200,1300,1400,1500,1600,1700,1800,1900,2000,2100,2200,2300],"tickSize":4,"labels":false,"domain":false,"grid":false,"title":null}}}},
{"data":{"name":"up"},"mark":{"type":"line","strokeWidth":2},
 "encoding":{
  "x":{"field":"t","type":"quantitative","scale":{"domain":[74.9,87.11],"nice":false,"zero":false},
       "axis":{"orient":"top","values":[75,75.5,76,76.5,77,77.5,78,78.5,79,79.5,80,80.5,81,81.5,82,82.5,83,83.5,84,84.5,85,85.5,86,86.5,87],"tickSize":-4,"labels":false,"domain":false,"grid":false,"title":null}},
  "y":{"field":"v","type":"quantitative","scale":{"domain":[-314,2307],"nice":false,"zero":false},
       "axis":{"orient":"right","values":[-300,-200,-100,0,100,200,300,400,500,600,700,800,900,1000,1100,1200,1300,1400,1500,1600,1700,1800,1900,2000,2100,2200,2300],"tickSize":-3.5,"labels":false,"domain":false,"grid":false,"title":null}},
  "color":{"field":"s","type":"nominal","legend":null}}},
{"data":{"name":"up"},"mark":{"type":"square","size":34,"color":"#00008B","opacity":1},
 "encoding":{
  "x":{"field":"t","type":"quantitative","scale":{"domain":[74.9,87.11],"nice":false,"zero":false},
       "axis":{"orient":"bottom","values":[76,78,80,82,84,86],"tickSize":-9,"labels":false,"domain":false,"grid":false,"title":null}},
  "y":{"field":"v","type":"quantitative","scale":{"domain":[-314,2307],"nice":false,"zero":false},
       "axis":{"orient":"left","values":[0,500,1000,1500,2000],"tickSize":-7,"labels":false,"domain":false,"grid":false,"title":null}}}},
{"data":{"name":"up"},"transform":[{"filter":"datum.s == 102 || datum.s == 105 || datum.s == 108 || datum.s == 110"}],
 "mark":{"type":"square","size":5,"opacity":1},
 "encoding":{
  "x":{"field":"t","type":"quantitative","scale":{"domain":[74.9,87.11],"nice":false,"zero":false},
       "axis":{"orient":"bottom","values":[75,75.5,76,76.5,77,77.5,78,78.5,79,79.5,80,80.5,81,81.5,82,82.5,83,83.5,84,84.5,85,85.5,86,86.5,87],"tickSize":-3,"labels":false,"domain":false,"grid":false,"title":null}},
  "y":{"field":"v","type":"quantitative","scale":{"domain":[-314,2307],"nice":false,"zero":false},
       "axis":{"orient":"left","values":[-300,-200,-100,0,100,200,300,400,500,600,700,800,900,1000,1100,1200,1300,1400,1500,1600,1700,1800,1900,2000,2100,2200,2300],"tickSize":-4,"labels":false,"domain":false,"grid":false,"title":null}},
  "color":{"field":"s","type":"nominal","legend":null}}},
{"data":{"name":"low"},"mark":{"type":"line","strokeWidth":2},
 "encoding":{
  "x":{"field":"t","type":"quantitative","scale":{"domain":[74.9,87.11],"nice":false,"zero":false},"axis":null},
  "y":{"field":"v","type":"quantitative","scale":{"domain":[-314,2307],"nice":false,"zero":false},"axis":null},
  "color":{"field":"s","type":"nominal","legend":null}}},
{"data":{"name":"low"},"transform":[{"filter":"datum.s == 203 || datum.s == 204"}],
 "mark":{"type":"circle","size":45,"color":"#0A6E0A","opacity":1},
 "encoding":{
  "x":{"field":"t","type":"quantitative","scale":{"domain":[74.9,87.11],"nice":false,"zero":false},"axis":null},
  "y":{"field":"v","type":"quantitative","scale":{"domain":[-314,2307],"nice":false,"zero":false},"axis":null}}}
],
"resolve":{"axis":{"x":"independent","y":"independent"}},
"config":{
 "view":{"stroke":null},
 "axis":{"domainColor":"#333","domainWidth":1.5,"tickColor":"#333","tickWidth":1.3,"labelFont":"Liberation Sans","labelFontSize":18,"labelColor":"#1a1a1a","gridColor":"#000","gridDash":[1,7],"gridWidth":1.3,"gridOpacity":0.9}
}
}
